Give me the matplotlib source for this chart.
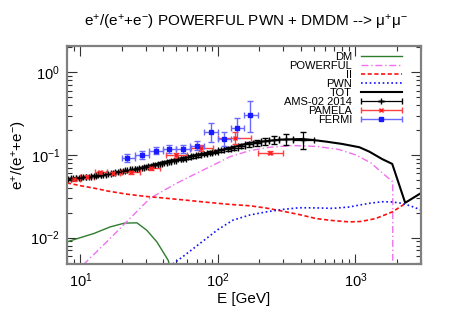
import matplotlib
matplotlib.use("Agg")
import matplotlib.pyplot as plt
import numpy as np
from matplotlib.container import ErrorbarContainer
from matplotlib.legend_handler import HandlerErrorbar
from matplotlib.ticker import LogLocator, NullFormatter

plt.rcParams['font.family'] = ['Liberation Sans', 'DejaVu Sans']
plt.rcParams['mathtext.fontset'] = 'custom'
plt.rcParams['mathtext.rm'] = 'Liberation Sans'
plt.rcParams['mathtext.it'] = 'Liberation Sans:italic'

# ---------------- data ----------------
# model curves
dm_E = [8.0, 10.0, 12.5, 16.5, 21.0, 25.8, 30.4, 36.0, 40.0, 43.6, 45.5]
dm_f = [0.0089, 0.0100, 0.0112, 0.0135, 0.0150, 0.0151, 0.0123, 0.0089, 0.0067, 0.0053, 0.0040]

pw_E = [10.5, 16.5, 22.0, 32.0, 50.0, 70.0, 98.0, 122.0, 171.0, 240.0, 350.0, 520.0, 750.0, 1010.0, 1300.0, 1580.0, 1870.0, 1870.0]
pw_f = [0.0047, 0.0098, 0.0159, 0.0298, 0.0454, 0.060, 0.079, 0.095, 0.113, 0.124, 0.130, 0.127, 0.117, 0.100, 0.080, 0.060, 0.0475, 0.001]

ii_E = [8.0, 10.0, 12.5, 16.0, 22.0, 30.0, 40.0, 60.0, 83.0, 120.0, 171.0, 225.0, 300.0, 392.0, 520.0, 683.0, 905.0, 1100.0, 1400.0, 1870.0, 2300.0]
ii_f = [0.0460, 0.0425, 0.0398, 0.0365, 0.0335, 0.0315, 0.0302, 0.0283, 0.0268, 0.0253, 0.0243, 0.0228, 0.0208, 0.0190, 0.0170, 0.0161, 0.0155, 0.0157, 0.0170, 0.0206, 0.0258]

pwn_E = [47.0, 55.0, 74.0, 100.0, 129.0, 171.0, 225.0, 300.0, 392.0, 520.0, 683.0, 905.0, 1070.0, 1300.0, 1580.0, 1850.0, 2190.0, 2550.0, 3000.0]
pwn_f = [0.0048, 0.0058, 0.0085, 0.0125, 0.0163, 0.0188, 0.0205, 0.0220, 0.0230, 0.0229, 0.0226, 0.0235, 0.0248, 0.0262, 0.0272, 0.0270, 0.0260, 0.0240, 0.0216]

tot_E = [8.0, 12.4, 21.9, 38.0, 60.0, 109.0, 171.0, 280.0, 413.0, 488.0, 613.0, 800.0, 1070.0, 1259.0, 1570.0, 1853.0, 2302.0, 3000.0]
tot_f = [0.051, 0.0548, 0.063, 0.080, 0.095, 0.116, 0.140, 0.153, 0.156, 0.152, 0.145, 0.136, 0.124, 0.110, 0.089, 0.078, 0.0264, 0.0346]

# AMS-02 2014
ams_edges = [7.7, 8.5, 9.3, 10.1, 11.0, 12.0, 13.0, 14.1, 15.3, 16.6, 18.0, 19.5, 21.1, 22.9, 24.8,
             26.8, 29.0, 31.3, 33.8, 36.5, 39.4, 42.5, 45.9, 49.6, 53.7, 58.2, 63.3, 69.0, 75.0, 83.0,
             91.0, 101.0, 111.0, 125.0, 140.0, 157.0, 180.0, 206.0, 236.0, 280.0, 350.0, 500.0]
ams_E = [8.1, 8.9, 9.7, 10.5, 11.5, 12.5, 13.5, 14.7, 15.9, 17.3, 18.7, 20.3, 22.0, 23.8, 25.8,
         27.9, 30.1, 32.5, 35.1, 37.9, 40.9, 44.2, 47.7, 51.6, 55.9, 60.7, 66.1, 72.0, 79.0, 87.0,
         96.0, 106.0, 118.0, 132.0, 148.0, 168.0, 192.0, 220.0, 257.0, 313.0, 418.0]
ams_f = [0.0515, 0.0520, 0.0528, 0.0536, 0.0545, 0.0556, 0.0567, 0.0580, 0.0594, 0.0607,
         0.0621, 0.0637, 0.0652, 0.0668, 0.0686, 0.0705, 0.0722, 0.0742, 0.0765, 0.0786,
         0.0808, 0.0832, 0.0857, 0.0882, 0.0905, 0.0933, 0.0960, 0.0992, 0.1030, 0.1065,
         0.1100, 0.1140, 0.1180, 0.1230, 0.1280, 0.1340, 0.1400, 0.1470, 0.1520, 0.1550, 0.1530]
ams_err = [0.0010, 0.0010, 0.0010, 0.0010, 0.0010, 0.0010, 0.0010, 0.0010, 0.0010, 0.0010,
           0.0012, 0.0012, 0.0012, 0.0012, 0.0012, 0.0012, 0.0012, 0.0012, 0.0012, 0.0012,
           0.0016, 0.0018, 0.0020, 0.0022, 0.0025, 0.0028, 0.0030, 0.0034, 0.0038, 0.0042,
           0.0048, 0.0055, 0.0062, 0.0070, 0.0080, 0.0090, 0.0120, 0.0140, 0.0170, 0.0220, 0.0350]

# PAMELA
pam_E = [9.0, 11.1, 14.0, 17.3, 23.2, 32.8, 50.0, 76.0, 133.0, 238.0]
pam_f = [0.0507, 0.0546, 0.0617, 0.0600, 0.0617, 0.0700, 0.1000, 0.1220, 0.1620, 0.1070]
pam_lo = [8.0, 10.0, 12.8, 15.5, 20.0, 28.0, 42.0, 64.0, 100.0, 195.0]
pam_hi = [10.0, 12.5, 15.5, 19.5, 27.0, 38.0, 60.0, 92.0, 175.0, 296.0]
pam_err = [0.002, 0.002, 0.003, 0.003, 0.003, 0.004, 0.007, 0.010, 0.025, 0.004]

# FERMI
fer_E = [22.0, 28.0, 35.5, 44.3, 55.9, 70.0, 88.5, 110.0, 138.0, 172.0]
fer_f = [0.093, 0.100, 0.113, 0.118, 0.118, 0.130, 0.190, 0.158, 0.210, 0.305]
fer_lo = [20.0, 25.0, 31.6, 40.0, 50.0, 63.0, 79.0, 100.0, 125.0, 155.0]
fer_hi = [25.0, 31.6, 40.0, 50.0, 63.0, 79.0, 100.0, 125.0, 155.0, 195.0]
fer_elo = [0.010, 0.010, 0.011, 0.012, 0.012, 0.014, 0.045, 0.028, 0.050, 0.115]
fer_ehi = [0.011, 0.011, 0.012, 0.013, 0.013, 0.016, 0.055, 0.030, 0.070, 0.145]

# ---------------- figure ----------------
fig = plt.figure(figsize=(4.49, 3.14), dpi=100)
ax = fig.add_axes([67/449, 50/314, 354/449, 218/314])
ax.set_xscale('log')
ax.set_yscale('log')
ax.set_xlim(8, 3000)
ax.set_ylim(0.0048, 2.08)

h_dm, = ax.plot(dm_E, dm_f, color='#2e7d2e', lw=1.0, label='DM')
h_pw, = ax.plot(pw_E, pw_f, color='#f070f0', lw=1.0, dashes=(5, 2, 1, 2), label='POWERFUL')
h_ii, = ax.plot(ii_E, ii_f, color='#ff1010', lw=1.2, dashes=(2.5, 1.5), label='II')
h_pwn, = ax.plot(pwn_E, pwn_f, color='#1010ff', lw=1.2, dashes=(1, 1.6), label='PWN')
h_tot, = ax.plot(tot_E, tot_f, color='black', lw=1.5, label='TOT')

ams_xerr = [np.array(ams_E) - np.array(ams_edges[:-1]), np.array(ams_edges[1:]) - np.array(ams_E)]
h_ams = ax.errorbar(ams_E, ams_f, yerr=ams_err, xerr=ams_xerr, fmt='+', color='black',
                    ms=4, mew=1.0, elinewidth=0.9, capsize=2, capthick=0.9, label='AMS-02 2014')
pam_xerr = [np.array(pam_E) - np.array(pam_lo), np.array(pam_hi) - np.array(pam_E)]
h_pam = ax.errorbar(pam_E, pam_f, yerr=pam_err, xerr=pam_xerr, fmt='x', color='#ff2020',
                    ecolor='#ff4040', ms=3.5, mew=1.0, elinewidth=1.0, capsize=2, capthick=1.0,
                    label='PAMELA')
fer_xerr = [np.array(fer_E) - np.array(fer_lo), np.array(fer_hi) - np.array(fer_E)]
h_fer = ax.errorbar(fer_E, fer_f, yerr=[fer_elo, fer_ehi], xerr=fer_xerr, fmt='s', color='#1a1aff',
                    ecolor='#6a6aff', ms=3.0, elinewidth=1.0, capsize=2, capthick=1.0, label='FERMI')

# axes styling (gnuplot-like)
for sp in ax.spines.values():
    sp.set_color('#808080')
    sp.set_linewidth(1.6)
ax.xaxis.set_major_locator(LogLocator(base=10, numticks=10))
ax.xaxis.set_minor_locator(LogLocator(base=10, subs=np.arange(2, 10), numticks=10))
ax.yaxis.set_major_locator(LogLocator(base=10, numticks=10))
ax.yaxis.set_minor_locator(LogLocator(base=10, subs=np.arange(2, 10), numticks=10))
ax.xaxis.set_minor_formatter(NullFormatter())
ax.yaxis.set_minor_formatter(NullFormatter())
ax.tick_params(which='both', direction='in', top=True, right=True, color='#333333', width=0.8,
               labelsize=10.5)
ax.tick_params(which='major', length=7)
ax.tick_params(which='minor', length=3.5)
ax.tick_params(axis='x', pad=5)
ax.tick_params(axis='y', pad=5)

ax.set_xlabel('E [GeV]', fontsize=11, labelpad=2)
ax.set_ylabel('e$^{+}$/(e$^{+}$+e$^{-}$)', fontsize=11, labelpad=1)

fig.text(246/449, 1 - 22/314, 'e$^{+}$/(e$^{+}$+e$^{-}$) POWERFUL PWN + DMDM --> μ$^{+}$μ$^{-}$',
         ha='center', va='center', fontsize=11)

leg = ax.legend([h_dm, h_pw, h_ii, h_pwn, h_tot, h_ams, h_pam, h_fer],
                ['DM', 'POWERFUL', 'II', 'PWN', 'TOT', 'AMS-02 2014', 'PAMELA', 'FERMI'],
                loc='upper right', bbox_to_anchor=((402 - 67) / 354, (264 - 52) / 218),
                borderaxespad=0, borderpad=0, frameon=False, markerfirst=False,
                fontsize=8, handlelength=3.7, handletextpad=0.8, labelspacing=-0.09,
                handler_map={ErrorbarContainer: HandlerErrorbar(xerr_size=1.85, yerr_size=0)})

fig.savefig('out.png', dpi=100)
